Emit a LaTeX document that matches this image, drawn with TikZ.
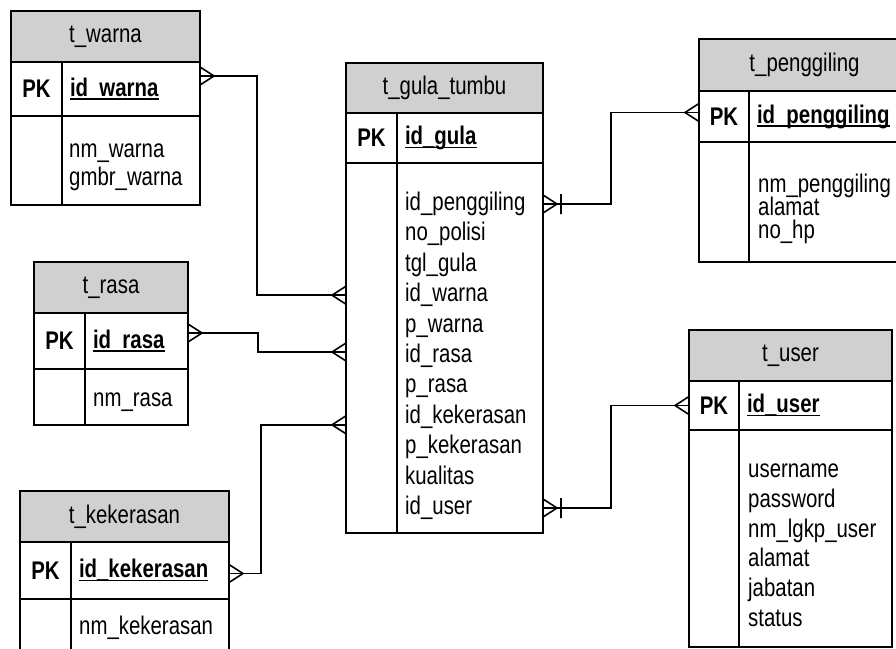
\documentclass[tikz,border=0pt]{standalone}
\usepackage{fontspec}
\setmainfont{Liberation Sans}[FakeStretch=0.8]
\usepackage{tikz}
\usetikzlibrary{calc,positioning}
\definecolor{hdrgray}{RGB}{208,208,208}
\newcommand\keyline[1]{\leavevmode\setbox0=\hbox{\textbf{#1}}\rlap{\rule[-3.5pt]{\wd0}{1.5pt}}\box0}
\tikzset{
  cell/.style={draw, line width=1.2pt, inner sep=0pt, outer sep=0pt, anchor=north west},
  hdr/.style={cell, fill=hdrgray},
  keycell/.style={cell, align=left, inner xsep=8pt},
  attr/.style={anchor=west, inner sep=0pt, text height=18pt, text depth=5pt},
  rel/.style={line width=1.6pt},
  crowr/.pic={\draw[rel] (0,-9) -- (14,0) -- (0,9);},
  crowl/.pic={\draw[rel] (0,-9) -- (-14,0) -- (0,9);},
  barr/.pic={\draw[rel] (0,-9) -- (14,0) -- (0,9) (18,-10) -- (18,10);}
}

\begin{document}
\begin{tikzpicture}[x=1pt,y=-1pt,font=\fontsize{25.5}{28}\selectfont]
              \useasboundingbox (0,0) rectangle (896,648);
              \clip (0,0) rectangle (896,648);
              % t_warna
              \node[hdr, minimum width=189pt, minimum height=51pt] (warna) at (11,11) {t\_warna};
              \node[cell, minimum width=51pt, minimum height=54pt] (warnapk) at (warna.south west) {\textbf{PK}};
              \node[keycell, text width=122pt, minimum height=54pt] (warnakey) at (warnapk.north east) {\keyline{id\_warna}};
              \node[cell, minimum width=51pt, minimum height=89pt] (warnanul) at (warnapk.south west) {};
              \node[cell, minimum width=138pt, minimum height=89pt] (warnaattr) at (warnanul.north east) {};
              \node[attr] (warna1) at (69,151) {nm\_warna};
              \node[attr] (warna2) at (69,179) {gmbr\_warna};
              % t_rasa
              \node[hdr, minimum width=154pt, minimum height=51pt] (rasa) at (34,262) {t\_rasa};
              \node[cell, minimum width=51pt, minimum height=56pt] (rasapk) at (rasa.south west) {\textbf{PK}};
              \node[keycell, text width=87pt, minimum height=56pt] (rasakey) at (rasapk.north east) {\keyline{id\_rasa}};
              \node[cell, minimum width=51pt, minimum height=56pt] (rasanul) at (rasapk.south west) {};
              \node[cell, minimum width=103pt, minimum height=56pt] (rasaattr) at (rasanul.north east) {};
              \node[attr] (rasa1) at (93,400) {nm\_rasa};
              % t_kekerasan
              \node[hdr, minimum width=209pt, minimum height=51pt] (kek) at (20,491) {t\_kekerasan};
              \node[cell, minimum width=51pt, minimum height=57pt] (kekpk) at (kek.south west) {\textbf{PK}};
              \node[keycell, text width=142pt, minimum height=57pt] (kekkey) at (kekpk.north east) {\keyline{id\_kekerasan}};
              \node[cell, minimum width=51pt, minimum height=75pt] (keknul) at (kekpk.south west) {};
              \node[cell, minimum width=158pt, minimum height=75pt] (kekattr) at (keknul.north east) {};
              \node[attr] (kek1) at (79,628) {nm\_kekerasan};
              % t_gula_tumbu
              \node[hdr, minimum width=197pt, minimum height=50pt] (gula) at (346,63) {t\_gula\_tumbu};
              \node[cell, minimum width=51pt, minimum height=50pt] (gulapk) at (gula.south west) {\textbf{PK}};
              \node[keycell, text width=130pt, minimum height=50pt] (gulakey) at (gulapk.north east) {\keyline{id\_gula}};
              \node[cell, minimum width=51pt, minimum height=370pt] (gulanul) at (gulapk.south west) {};
              \node[cell, minimum width=146pt, minimum height=370pt] (gulaattr) at (gulanul.north east) {};
              \foreach \a [count=\i from 0] in {id\_penggiling, no\_polisi, tgl\_gula, id\_warna, p\_warna, id\_rasa, p\_rasa, id\_kekerasan, p\_kekerasan, kualitas, id\_user}
                \node[attr] (gula\i) at (405,204+30.4*\i) {\a};
              % t_penggiling
              \node[hdr, minimum width=211pt, minimum height=52pt] (peng) at (699,39) {t\_penggiling};
              \node[cell, minimum width=50pt, minimum height=51pt] (pengpk) at (peng.south west) {\textbf{PK}};
              \node[keycell, text width=145pt, minimum height=51pt] (pengkey) at (pengpk.north east) {\keyline{id\_penggiling}};
              \node[cell, minimum width=50pt, minimum height=120pt] (pengnul) at (pengpk.south west) {};
              \node[cell, minimum width=161pt, minimum height=120pt] (pengattr) at (pengnul.north east) {};
              \foreach \a [count=\i from 0] in {nm\_penggiling, alamat, no\_hp}
                \node[attr] (peng\i) at (758,186+23*\i) {\a};
              % t_user
              \node[hdr, minimum width=203pt, minimum height=51pt] (user) at (689,330) {t\_user};
              \node[cell, minimum width=50pt, minimum height=49pt] (userpk) at (user.south west) {\textbf{PK}};
              \node[keycell, text width=137pt, minimum height=49pt] (userkey) at (userpk.north east) {\keyline{id\_user}};
              \node[cell, minimum width=50pt, minimum height=217pt] (usernul) at (userpk.south west) {};
              \node[cell, minimum width=153pt, minimum height=217pt] (userattr) at (usernul.north east) {};
              \foreach \a [count=\i from 0] in {username, password, nm\_lgkp\_user, alamat, jabatan, status}
                \node[attr] (user\i) at (748,471+29.8*\i) {\a};
              % relations
              \draw[rel] ([yshift=13pt]warnakey.east) coordinate (w1) -- ++(57,0) |- (gula3 -| gulanul.west) coordinate (w2);
              \pic at (w1) {crowr};
              \pic at (w2) {crowl};
              \draw[rel] ([yshift=8pt]rasakey.east) coordinate (r1) -- ++(70,0) |- ($(gula5.west -| gulanul.west)+(0,-4)$) coordinate (r2);
              \pic at (r1) {crowr};
              \pic at (r2) {crowl};
              \draw[rel] ([yshift=-3pt]kekkey.east) coordinate (k1) -- ++(32,0) |- ($(gula7.west -| gulanul.west)+(0,8)$) coordinate (k2);
              \pic at (k1) {crowr};
              \pic at (k2) {crowl};
              \draw[rel] (gula0 -| gulaattr.east) coordinate (p1) -- ++(68,0) |- ([yshift=4pt]pengpk.west) coordinate (p2);
              \pic at (p1) {barr};
              \pic at (p2) {crowl};
              \draw[rel] (gula10 -| gulaattr.east) coordinate (u1) -- ++(68,0) |- (userpk.west) coordinate (u2);
              \pic at (u1) {barr};
              \pic at (u2) {crowl};
            \end{tikzpicture}
\end{document}
